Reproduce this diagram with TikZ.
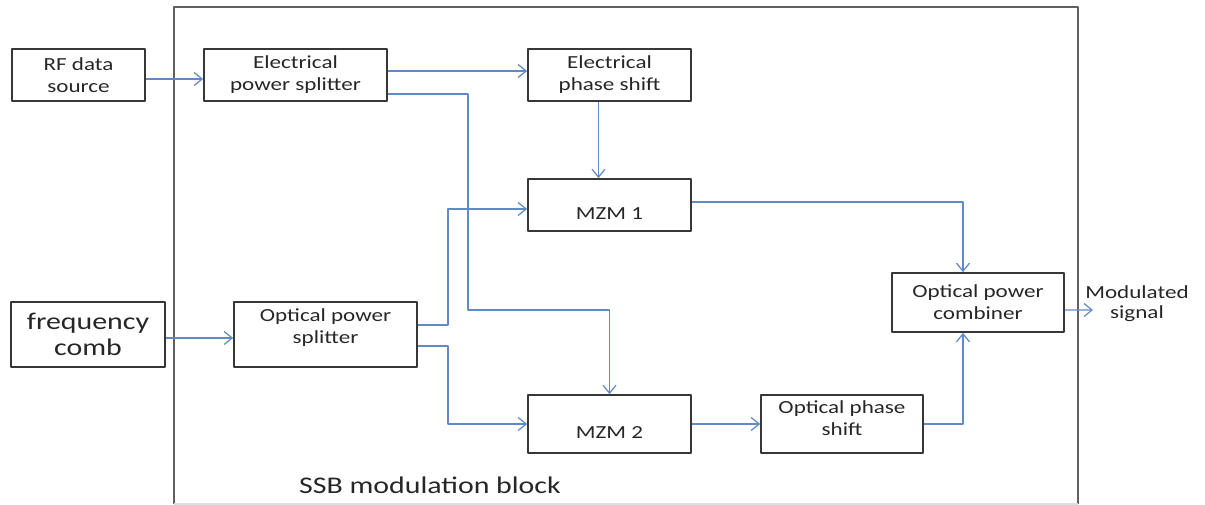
\documentclass[tikz,border=0pt]{standalone}
\usepackage{fontspec}
\setmainfont{Carlito}[FakeStretch=1.25]
\usetikzlibrary{arrows.meta}
\definecolor{wire}{RGB}{96,138,198}
\definecolor{edge}{RGB}{55,55,55}
\begin{document}
\begin{tikzpicture}[x=0.2mm,y=-0.2mm,line join=round,
	box/.style={draw=edge,line width=1pt,align=center,inner sep=1pt,text=black!85,font=\fontsize{10.5}{12.5}\selectfont},
	wireline/.style={draw=wire,line width=0.7pt,-{Straight Barb[length=1.6mm,width=2.6mm]}}]
		\useasboundingbox (0,0) rectangle (1205,505);
		% modulation block frame
		\draw[gray!75!black,line width=1.1pt] (174,504) -- (174,7) -- (1078,7) -- (1078,504);
		\draw[gray!25,line width=1pt] (174,504) -- (1078,504);
		\node[text=black!85,font=\fontsize{13.6}{15}\selectfont] (blk) at (430,485) {SSB modulation block};
		% blocks
		\node[box,minimum width=26.6mm,minimum height=10.4mm] (rf) at (78.5,75) {RF data\\source};
		\node[box,minimum width=36.6mm,minimum height=10.4mm] (eps) at (295.5,75) {Electrical\\power splitter};
		\node[box,minimum width=32.6mm,minimum height=10.4mm] (eph) at (609.5,75) {Electrical\\phase shift};
		\node[box,minimum width=32.6mm,minimum height=10.4mm,text height=6mm,text depth=0pt] (mzm1) at (609.5,205) {MZM 1};
		\node[box,minimum width=30.8mm,minimum height=13mm,font=\fontsize{13.6}{15}\selectfont] (comb) at (88,334.5) {frequency\\comb};
		\node[box,minimum width=36.6mm,minimum height=13mm,text depth=3.5mm] (ops) at (325.5,334.5) {Optical power\\splitter};
		\node[box,minimum width=32.6mm,minimum height=11.6mm,text height=6mm,text depth=0pt] (mzm2) at (609.5,424) {MZM 2};
		\node[box,minimum width=32.4mm,minimum height=11.6mm,text depth=2.3mm] (oph) at (842,424) {Optical phase\\shift};
		\node[box,minimum width=34.4mm,minimum height=11.8mm] (opc) at (978,302.5) {Optical power\\combiner};
		\node[text=black!85,align=center,font=\fontsize{10.5}{11.5}\selectfont] (out) at (1137,304) {Modulated\\signal};
		\coordinate (tip) at (1093,310);
		% connections
		\draw[wireline] ([yshift=-0.8mm]rf.east) -- ([yshift=-0.8mm]eps.west);
		\draw[wireline] ([yshift=0.8mm]eps.east) -- ([yshift=0.8mm]eph.west);
		\draw[wireline] ([yshift=-3.8mm]eps.east) -- ++(80,0) -- ++(0,216) -| (mzm2.north);
		\draw[wireline] ([xshift=-2.2mm]eph.south) -- ([xshift=-2.2mm]mzm1.north);
		\draw[wireline] ([yshift=-0.7mm]comb.east) -- ([yshift=-0.7mm]ops.west);
		\draw[wireline] ([yshift=1.9mm]ops.east) -- ++(30,0) |- ([yshift=-0.8mm]mzm1.west);
		\draw[wireline] ([yshift=-2.3mm]ops.east) -- ++(30,0) |- (mzm2.west);
		\draw[wireline] ([yshift=0.6mm]mzm1.east) -| ([xshift=-3mm]opc.north);
		\draw[wireline] (mzm2.east) -- (oph.west);
		\draw[wireline] (oph.east) -| ([xshift=-3mm]opc.south);
		\draw[wireline] ([yshift=-1.5mm]opc.east) -- (tip);
	\end{tikzpicture}
\end{document}
